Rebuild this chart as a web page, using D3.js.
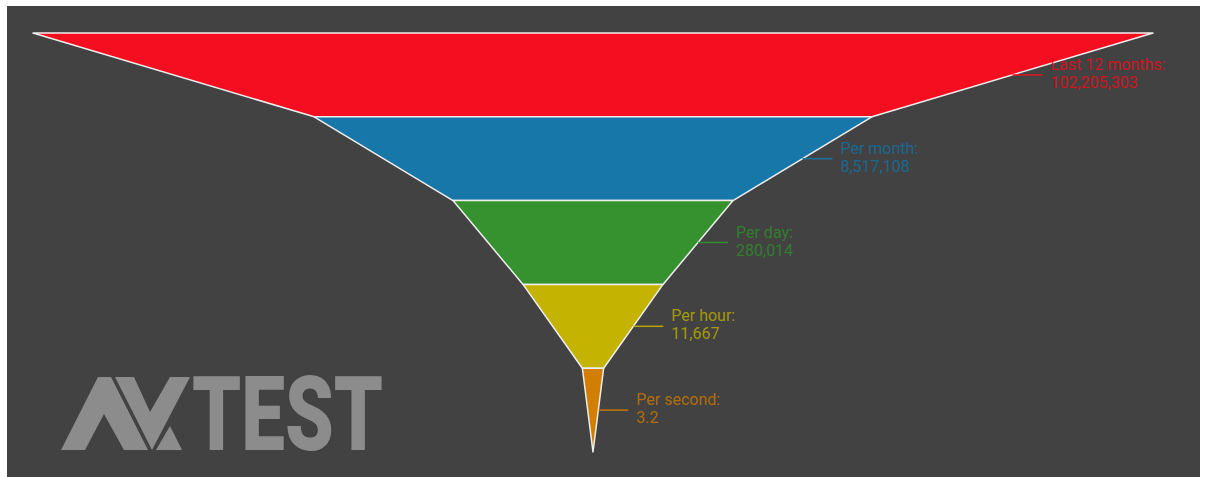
<!DOCTYPE html>
<html>
<head>
<meta charset="utf-8">
<script src="https://cdn.jsdelivr.net/npm/d3@7"></script>
<style>
  html, body { margin: 0; padding: 0; background: #ffffff; }
  svg { display: block; }
</style>
</head>
<body>
<div id="chart"></div>
<script>
// Funnel data
const stageLabels = ['Last 12 months:', 'Per month:', 'Per day:', 'Per hour:', 'Per second:'];
const stageValues = [102205303, 8517108, 280014, 11667, 3.2];
const stageColors = ['#f50e1f', '#1777a8', '#35922f', '#c4b300', '#d17f00'];

// Funnel outline: relative width at each stage edge (top of first to tip)
const edgeRatios = [1, 0.498, 0.25, 0.125, 0.019, 0];

const width = 1205;
const height = 477;

const config = {
  panel: { x: 7, y: 6, right: 1200, bottom: 477 },
  funnelTop: 33,
  funnelBottom: 452,
  funnelLeft: 33,
  funnelRight: 1153,
  connector: 30,
  labelGap: 8,
  fontSize: 16
};

const svg = d3.select('#chart')
  .append('svg')
  .attr('width', width)
  .attr('height', height);

// Dark panel
svg.append('rect')
  .attr('x', config.panel.x)
  .attr('y', config.panel.y)
  .attr('width', config.panel.right - config.panel.x)
  .attr('height', config.panel.bottom - config.panel.y)
  .attr('fill', '#424242');

// Scales
const y = d3.scaleLinear()
  .domain([0, stageValues.length])
  .range([config.funnelTop, config.funnelBottom]);

const x = d3.scaleLinear()
  .domain([-1, 1])
  .range([config.funnelLeft, config.funnelRight]);

const stages = stageValues.map((v, i) => ({
  label: stageLabels[i],
  value: v,
  color: stageColors[i],
  top: edgeRatios[i],
  bottom: edgeRatios[i + 1],
  index: i
}));

// Logo (drawn under the funnel)
const logo = svg.append('g').attr('fill', '#8c8c8c');
const logoShapes = [
  [[61, 450], [98, 377], [111, 377], [148, 450], [124, 450], [104, 414], [85, 450]],
  [[115, 377], [134, 377], [150, 412], [170, 377], [190, 377], [152, 450]],
  [[156, 450], [170, 426], [182, 450]]
];
logo.selectAll('path')
  .data(logoShapes)
  .join('path')
  .attr('d', d => d3.line()(d) + 'Z');
logo.append('text')
  .attr('x', 192)
  .attr('y', 450)
  .attr('font-family', 'Roboto, sans-serif')
  .attr('font-weight', 900)
  .attr('font-size', 103)
  .attr('textLength', 191)
  .attr('lengthAdjust', 'spacingAndGlyphs')
  .text('TEST');

// Funnel segments
const segPath = d => {
  const y0 = y(d.index);
  const y1 = y(d.index + 1);
  return d3.line()([
    [x(-d.top), y0], [x(d.top), y0],
    [x(d.bottom), y1], [x(-d.bottom), y1]
  ]) + 'Z';
};

svg.append('g')
  .selectAll('path.segment')
  .data(stages)
  .join('path')
  .attr('class', 'segment')
  .attr('d', segPath)
  .attr('fill', d => d.color)
  .attr('stroke', '#eeeeee')
  .attr('stroke-width', 1.5)
  .attr('stroke-linejoin', 'round');

// Labels with connector lines
const fmt = d3.format(',');
const labels = svg.append('g')
  .selectAll('g.label')
  .data(stages)
  .join('g')
  .attr('class', 'label')
  .attr('transform', d => {
    const mx = (x(d.top) + x(d.bottom)) / 2;
    const my = (y(d.index) + y(d.index + 1)) / 2;
    return `translate(${mx},${my})`;
  });

labels.append('line')
  .attr('x1', 0)
  .attr('x2', config.connector)
  .attr('y1', 0)
  .attr('y2', 0)
  .attr('stroke', d => d.color)
  .attr('stroke-opacity', 0.9)
  .attr('stroke-width', 1.5);

const text = labels.append('text')
  .attr('font-family', 'Roboto, sans-serif')
  .attr('font-size', config.fontSize)
  .attr('fill', d => d3.color(d.color).darker(0.25))
  .attr('fill-opacity', 0.9);

text.append('tspan')
  .attr('x', config.connector + config.labelGap)
  .attr('y', -5)
  .text(d => d.label);

text.append('tspan')
  .attr('x', config.connector + config.labelGap)
  .attr('y', 13)
  .text(d => fmt(d.value));
</script>
</body>
</html>
